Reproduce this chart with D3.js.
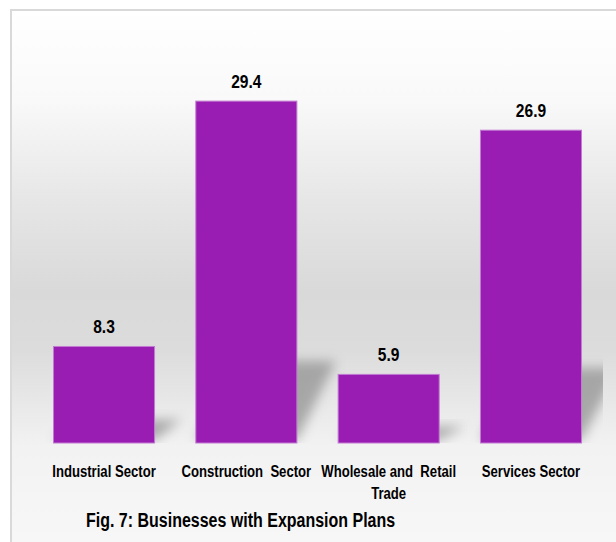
<!DOCTYPE html>
<html><head><meta charset="utf-8">
<script src="https://cdn.jsdelivr.net/npm/d3@7"></script>
<style>
body{margin:0;background:#fff}
svg{display:block}
text{font-family:"Liberation Sans Narrow","Liberation Sans",Arial,sans-serif;font-weight:bold;fill:#000;white-space:pre}
</style></head><body>
<svg id="c" width="616" height="542"></svg>
<script>
const categories = ["Industrial Sector", "Construction  Sector", "Wholesale and  Retail\nTrade", "Services Sector"];
const values = [8.3, 29.4, 5.9, 26.9];
const title = "Fig. 7: Businesses with Expansion Plans";
const yDomain = [0, 35];

const svg = d3.select("#c");
const defs = svg.append("defs");

// background gradient over whole chart box (y from 10 to 542)
const bgG = defs.append("linearGradient").attr("id","bgG").attr("gradientUnits","userSpaceOnUse")
  .attr("x1",0).attr("y1",10).attr("x2",0).attr("y2",542);
[[0,"#ffffff"],[0.17,"#f9f9f9"],[0.36,"#e6e6e6"],[0.53,"#d9d9d9"],[0.64,"#dcdcdc"],[0.82,"#f2f2f2"],[1,"#f7f7f7"]]
  .forEach(([o,c])=>bgG.append("stop").attr("offset",o).attr("stop-color",c));

const blur = defs.append("filter").attr("id","blur").attr("x","-50%").attr("y","-50%").attr("width","200%").attr("height","200%");
blur.append("feGaussianBlur").attr("stdDeviation",6);

const plot = {x0: 32, x1: 603, y0: 36, y1: 443};
defs.append("clipPath").attr("id","pclip").append("rect")
  .attr("x", plot.x0).attr("y", plot.y0).attr("width", plot.x1-plot.x0).attr("height", plot.y1-plot.y0);

// chart box
svg.append("rect").attr("x",11).attr("y",10).attr("width",640).attr("height",560)
  .attr("fill","url(#bgG)").attr("stroke","#d9d9d9").attr("stroke-width",2);

const x = d3.scaleBand().domain(categories).range([plot.x0, plot.x1]).paddingInner(0.29).paddingOuter(0.151);
const y = d3.scaleLinear().domain(yDomain).range([plot.y1, plot.y0]);

// shadows
const sh = svg.append("g").attr("clip-path","url(#pclip)");
sh.selectAll("path").data(values).join("path")
  .attr("d",(v,i)=>{
    const x0 = x(categories[i]), x1 = x0 + x.bandwidth();
    const h = y(0) - y(v);
    const dx = 22 + h*0.05, top = y(0) - h*0.24;
    return `M${x0},${y(0)-3}L${x1},${y(0)-3}L${x1+dx},${top}L${x0+dx},${top}Z`;
  })
  .attr("fill","#8c8c8c").attr("opacity",0.7).attr("filter","url(#blur)");

// bars
svg.append("g").selectAll("rect").data(values).join("rect")
  .attr("x",(v,i)=>x(categories[i]))
  .attr("y",v=>y(v))
  .attr("width",x.bandwidth())
  .attr("height",v=>y(0)-y(v))
  .attr("fill","#991db2").attr("stroke","#c27bd2").attr("stroke-width",1);

const SX = 0.82;
// value labels
svg.append("g").selectAll("text").data(values).join("text")
  .attr("transform",(v,i)=>`translate(${x(categories[i])+x.bandwidth()/2},${y(v)-13}) scale(${SX},1)`)
  .attr("text-anchor","middle").style("font-size","19px")
  .text(v=>d3.format(".1f")(v));

// category labels
const cl = svg.append("g").selectAll("text").data(categories).join("text")
  .attr("transform",d=>`translate(${x(d)+x.bandwidth()/2},477) scale(${SX},1)`)
  .attr("text-anchor","middle").style("font-size","16px");
cl.selectAll("tspan").data(d=>d.split("\n")).join("tspan")
  .attr("x",0)
  .attr("dy",(d,i)=>i?22:0)
  .text(d=>d);

// title
svg.append("text").attr("transform",`translate(86,527) scale(${SX},1)`).style("font-size","19.5px").text(title);
</script></body></html>
